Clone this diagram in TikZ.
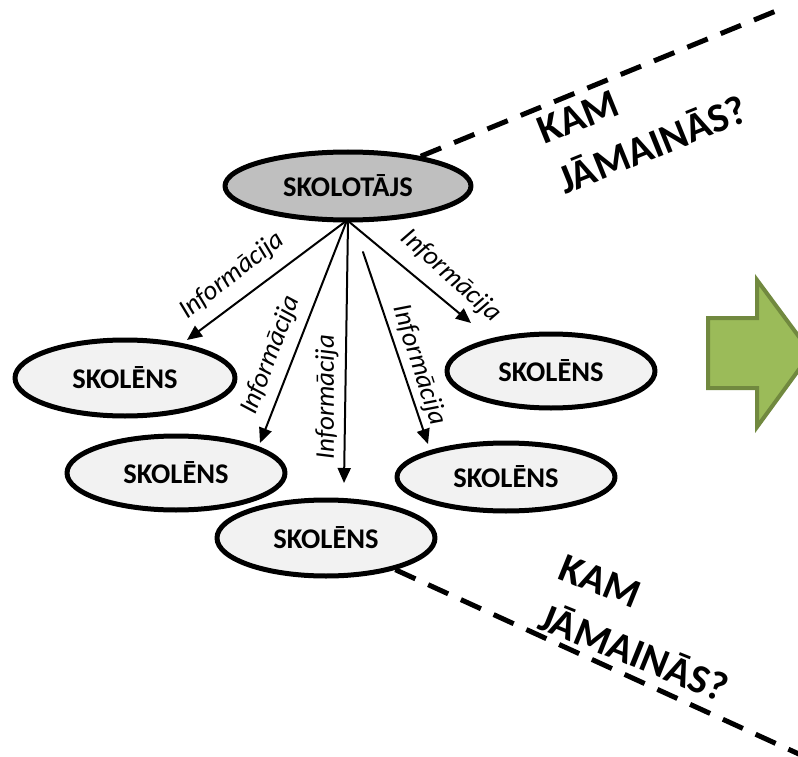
\documentclass[tikz,border=0pt]{standalone}
\usepackage{fontspec}
\setmainfont{Carlito}
\usetikzlibrary{arrows.meta,shapes.geometric}
\definecolor{arrowfill}{HTML}{9BBB59}
\definecolor{arrowedge}{HTML}{71893F}

\begin{document}
\begin{tikzpicture}[line cap=round,line join=round,>={Triangle[length=15pt,width=13pt]},x=1pt,y=-1pt,
  oval/.style={ellipse,draw=black,line width=5pt,fill=black!5,inner sep=0pt,font=\fontsize{28.5}{32}\selectfont\bfseries},
  info/.style={inner sep=0pt,font=\fontsize{27}{30}\selectfont\itshape},
  kam/.style={inner sep=0pt,align=left,font=\fontsize{41}{54}\selectfont\bfseries},
  flow/.style={->,line width=2pt},
  cut/.style={line width=5pt,line cap=butt,dash pattern=on 22pt off 14pt}]
\useasboundingbox (0,0) rectangle (798,757);
\clip (0,0) rectangle (798,757);
\node[oval,fill=black!25,minimum width=246pt,minimum height=68pt] (skolotajs) at (348,186) {SKOLOTĀJS};
\node[oval,minimum width=220pt,minimum height=76pt] (skolens1) at (125,378) {SKOLĒNS};
\node[oval,minimum width=218pt,minimum height=74pt] (skolens2) at (176,473) {SKOLĒNS};
\node[oval,minimum width=218pt,minimum height=76pt] (skolens3) at (326,538) {SKOLĒNS};
\node[oval,minimum width=208pt,minimum height=74pt] (skolens4) at (551,371) {SKOLĒNS};
\node[oval,minimum width=218pt,minimum height=68pt] (skolens5) at (506,477) {SKOLĒNS};
\coordinate (topend) at (776,11);
\coordinate (botend) at (812,760);
\draw [cut] (skolotajs) -- (topend);
\draw [cut] (skolens3) -- (botend);
\coordinate (tip1) at (187,340);
\coordinate (tip2) at (260,443);
\coordinate (tip3) at (344,483);
\coordinate (from4) at (363,252);
\coordinate (tip4) at (428,444);
\coordinate (tip5) at (471,323);
\draw [flow] (skolotajs.-96) -- (tip1);
\draw [flow] (skolotajs.-93) -- (tip2);
\draw [flow] (skolotajs.-90) -- (tip3);
\draw [flow] (from4) -- (tip4);
\draw [flow] (skolotajs.-87) -- (tip5);
\node[info,rotate=38] (info1) at (232,276) {Informācija};
\node[info,rotate=69] (info2) at (271,355) {Informācija};
\node[info,rotate=90] (info3) at (327,397) {Informācija};
\node[info,rotate=-72] (info4) at (419,365) {Informācija};
\node[info,rotate=-42] (info5) at (451,276) {Informācija};
\node[kam,rotate=22,anchor=base west] (kam1) at (565,195) {KAM\\JĀMAINĀS?};
\node[kam,rotate=-22,anchor=base west] (kam2) at (536,628) {KAM\\JĀMAINĀS?};
\draw [line width=4pt,line join=miter,draw=arrowedge,fill=arrowfill] (708,318) -- (757,318) -- (757,280) -- (811,353) -- (757,427) -- (757,388) -- (708,388) -- cycle;
\end{tikzpicture}
\end{document}
